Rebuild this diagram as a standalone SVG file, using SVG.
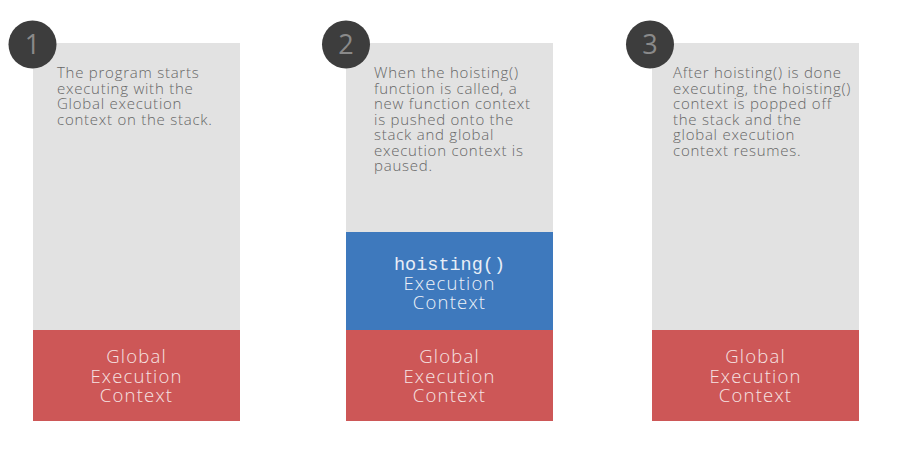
<svg xmlns="http://www.w3.org/2000/svg" width="898" height="453" viewBox="0 0 898 453">
<style>
.bg{fill:#e2e2e2}
.red{fill:#cd5757}
.blue{fill:#3e79bd}
.badge{fill:#3d3d3d}
.num{font-family:"Open Sans","Noto Sans",sans-serif;font-weight:400;font-size:27px;fill:#8a8a8a;text-anchor:middle}
.desc{font-family:"Open Sans","Noto Sans",sans-serif;font-weight:300;font-size:15px;letter-spacing:0.75px;fill:#666}
.lbl{font-family:"Open Sans","Noto Sans",sans-serif;font-weight:300;font-size:18.5px;letter-spacing:1.2px;fill:#f6e3e3;text-anchor:middle}
.mono{font-family:"Liberation Mono","DejaVu Sans Mono",monospace;font-size:18.5px;fill:#e8eef7;text-anchor:middle}
.lblb{fill:#eef2f8}
</style>
<rect width="898" height="453" fill="#fff"/>
<g id="connectors"></g>
<g id="step1">
<rect class="bg" x="33" y="43" width="207" height="287"/>
<text class="desc" x="57" y="78">The program starts</text>
<text class="desc" x="57" y="93.5">executing with the</text>
<text class="desc" x="57" y="109">Global execution</text>
<text class="desc" x="57" y="124.5">context on the stack.</text>
<g id="global1">
<rect class="red" x="33" y="330" width="207" height="91"/>
<text class="lbl" x="136.5" y="363">Global</text>
<text class="lbl" x="136.5" y="382.5">Execution</text>
<text class="lbl" x="136.5" y="402">Context</text>
</g>
<circle class="badge" cx="32.5" cy="44.5" r="24"/>
<text class="num" x="32.5" y="54">1</text>
</g>
<g id="step2">
<rect class="bg" x="346" y="43" width="207" height="189"/>
<text class="desc" x="374" y="78">When the hoisting()</text>
<text class="desc" x="374" y="93.5">function is called, a</text>
<text class="desc" x="374" y="109">new function context</text>
<text class="desc" x="374" y="124.5">is pushed onto the</text>
<text class="desc" x="374" y="140">stack and global</text>
<text class="desc" x="374" y="155.5">execution context is</text>
<text class="desc" x="374" y="171">paused.</text>
<g id="hoisting2">
<rect class="blue" x="346" y="232" width="207" height="98"/>
<text class="mono" x="449.5" y="270">hoisting()</text>
<text class="lbl lblb" x="449.5" y="289.5">Execution</text>
<text class="lbl lblb" x="449.5" y="309">Context</text>
</g>
<g id="global2">
<rect class="red" x="346" y="330" width="207" height="91"/>
<text class="lbl" x="449.5" y="363">Global</text>
<text class="lbl" x="449.5" y="382.5">Execution</text>
<text class="lbl" x="449.5" y="402">Context</text>
</g>
<circle class="badge" cx="346" cy="44.5" r="24"/>
<text class="num" x="346" y="54">2</text>
</g>
<g id="step3">
<rect class="bg" x="652" y="43" width="207" height="287"/>
<text class="desc" x="673" y="78">After hoisting() is done</text>
<text class="desc" x="673" y="93.5">executing, the hoisting()</text>
<text class="desc" x="673" y="109">context is popped off</text>
<text class="desc" x="673" y="124.5">the stack and the</text>
<text class="desc" x="673" y="140">global execution</text>
<text class="desc" x="673" y="155.5">context resumes.</text>
<g id="global3">
<rect class="red" x="652" y="330" width="207" height="91"/>
<text class="lbl" x="755.5" y="363">Global</text>
<text class="lbl" x="755.5" y="382.5">Execution</text>
<text class="lbl" x="755.5" y="402">Context</text>
</g>
<circle class="badge" cx="650" cy="44.5" r="24"/>
<text class="num" x="650" y="54">3</text>
</g>
</svg>
